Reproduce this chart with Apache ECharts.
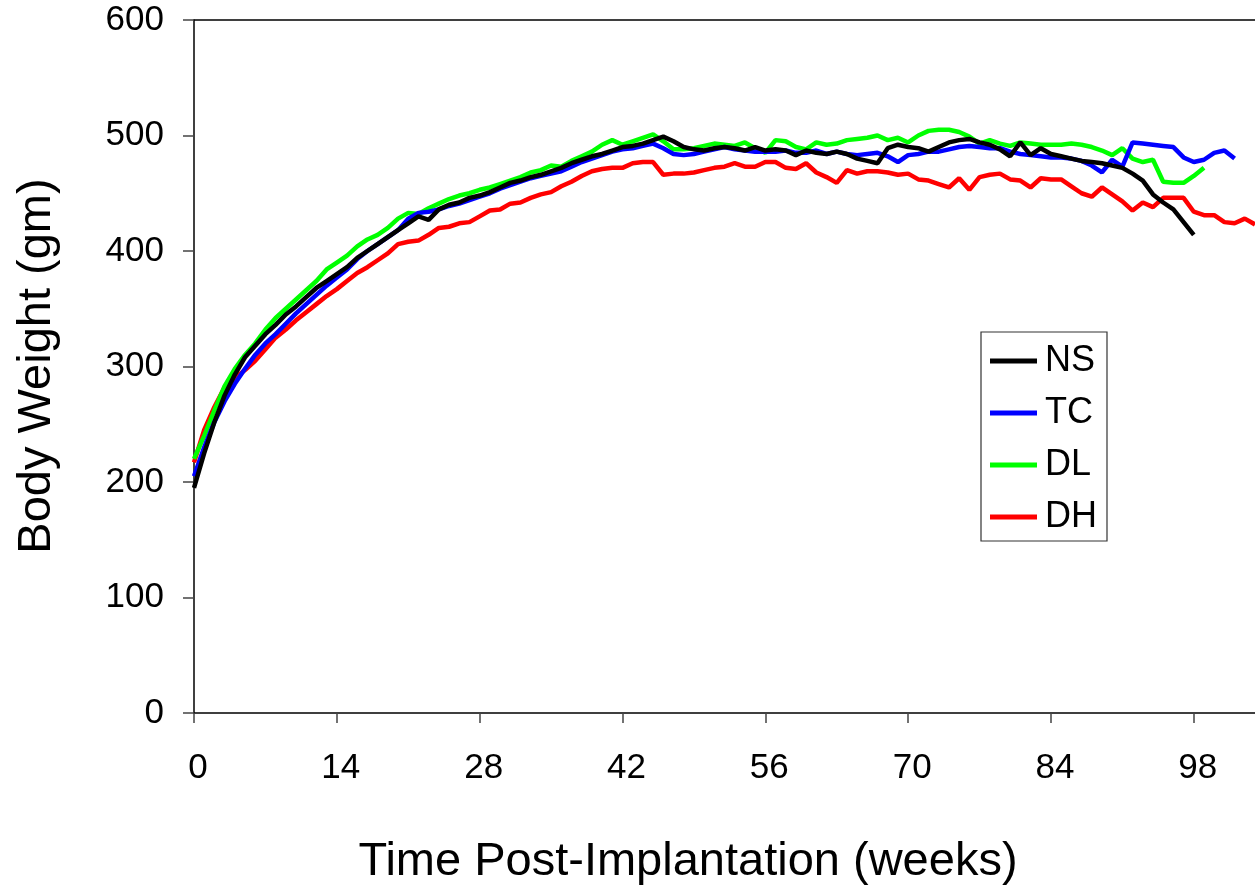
<!DOCTYPE html>
<html>
<head>
<meta charset="utf-8">
<script src="https://cdn.jsdelivr.net/npm/echarts@6/dist/echarts.min.js"></script>
<style>
html,body{margin:0;padding:0;background:#fff;}
#chart{width:1255px;height:893px;}
</style>
</head>
<body>
<div id="chart"></div>
<script>
// Weeks post-implantation (one reading per week)
const weeks = [];
for (let w = 0; w <= 104; w++) weeks.push(w);

const yTicks = [0, 100, 200, 300, 400, 500, 600];
const xTicks = [0, 14, 28, 42, 56, 70, 84, 98];

// Body weight (gm), index = week
const NS = [195,225,252,275,293,308,318,328,336,345,352,360,368,374,380,386,394,400,406,412,
418,424,430,427,436,440,442,446,448,451,455,459,461,464,466,469,472,476,479,482,
484,487,490,491,493,496,499,495,490,488,487,489,490,489,487,490,487,488,487,483,
487,485,484,486,484,480,478,476,489,492,490,489,486,490,494,496,497,494,492,488,
482,494,483,489,484,482,480,478,477,476,474,472,467,461,449,442,436,425,414];

const TC = [205,230,252,270,285,298,310,320,328,337,346,354,362,370,377,384,393,400,406,412,
418,428,433,434,436,439,441,444,447,450,454,457,460,463,465,467,469,473,477,480,
483,486,488,489,491,493,489,484,483,484,486,488,490,488,487,486,486,486,487,485,
485,487,484,486,484,483,484,485,482,477,483,484,486,486,488,490,491,490,489,489,
486,484,483,482,481,481,480,478,474,468,479,473,494,493,492,491,490,481,477,479,
485,487,480];

const DL = [220,240,262,283,298,310,320,332,342,350,358,366,374,384,390,396,404,410,414,420,
428,433,432,437,441,445,448,450,453,455,458,461,464,468,470,474,473,478,482,486,
492,496,492,495,498,501,495,488,488,489,491,493,492,491,494,489,485,496,495,490,
488,494,492,493,496,497,498,500,496,498,494,500,504,505,505,503,499,493,496,493,
491,494,493,492,492,492,493,492,490,487,483,489,480,477,479,460,459,459,465,472];

const DH = [217,245,265,282,290,297,305,315,325,332,340,347,354,361,367,374,381,386,392,398,
406,408,409,414,420,421,424,425,430,435,436,441,442,446,449,451,456,460,465,469,
471,472,472,476,477,477,466,467,467,468,470,472,473,476,473,473,477,477,472,471,
476,468,464,459,470,467,469,469,468,466,467,462,461,458,455,463,453,464,466,467,
462,461,455,463,462,462,456,450,447,455,449,443,435,442,438,446,446,446,434,431,
431,425,424,428,423];

const seriesNames = ['NS', 'TC', 'DL', 'DH'];
const seriesValues = [NS, TC, DL, DH];
const seriesColors = ['#000000', '#0000ff', '#00ff00', '#ff0000'];

const FONT = 'Liberation Sans, Arial, sans-serif';

const chart = echarts.init(document.getElementById('chart'));
chart.setOption({
  animation: false,
  backgroundColor: '#ffffff',
  grid: { left: 194, top: 20, right: 0, bottom: 180, containLabel: false },
  xAxis: [{
    type: 'value', min: 0, max: 104, interval: 14,
    axisLine: { show: true, onZero: false, lineStyle: { color: '#000', width: 1.5 } },
    axisTick: { show: true, inside: false, length: 10, lineStyle: { color: '#444', width: 1.5 },
      customValues: xTicks },
    axisLabel: { show: true, margin: 38, fontSize: 35, color: '#000', fontFamily: FONT,
      padding: [0, 0, 0, 8],
      customValues: xTicks, formatter: v => String(v) },
    splitLine: { show: false }
  }, {
    type: 'value', position: 'top', min: 0, max: 104,
    axisLine: { show: true, onZero: false, lineStyle: { color: '#000', width: 1.5 } },
    axisTick: { show: false }, axisLabel: { show: false }, splitLine: { show: false }
  }],
  yAxis: {
    type: 'value', min: 0, max: 600, interval: 100,
    axisLine: { show: true, onZero: false, lineStyle: { color: '#000', width: 1.5 } },
    axisTick: { show: true, inside: false, length: 11, lineStyle: { color: '#444', width: 1.5 } },
    axisLabel: { margin: 30, fontSize: 35, color: '#000', fontFamily: FONT,
      formatter: v => yTicks.includes(v) ? String(v) : '' },
    splitLine: { show: false }
  },
  legend: {
    orient: 'vertical', left: 981, top: 332,
    padding: [11, 10, 6, 9],
    itemGap: 16, itemWidth: 47, itemHeight: 5, icon: 'rect',
    borderColor: '#333', borderWidth: 1.2, backgroundColor: '#fff',
    textStyle: { fontSize: 36, color: '#000', fontFamily: FONT, lineHeight: 36, padding: [0, 0, 0, 3] },
    data: seriesNames
  },
  graphic: [
    { type: 'text', x: 688, y: 862,
      style: { text: 'Time Post-Implantation (weeks)', fontSize: 47, fontFamily: FONT, fill: '#000',
        align: 'center', verticalAlign: 'middle' } },
    { type: 'text', x: 37, y: 366, rotation: Math.PI / 2,
      style: { text: 'Body Weight (gm)', fontSize: 47, fontFamily: FONT, fill: '#000',
        align: 'center', verticalAlign: 'middle' } }
  ],
  series: seriesNames.map((name, i) => ({
    name: name,
    type: 'line',
    data: seriesValues[i].map((v, k) => [weeks[k], v]),
    showSymbol: false, symbol: 'none',
    itemStyle: { color: seriesColors[i] },
    lineStyle: { color: seriesColors[i], width: 4.5 },
    clip: true,
    z: 10 - i
  }))
});
</script>
</body>
</html>
